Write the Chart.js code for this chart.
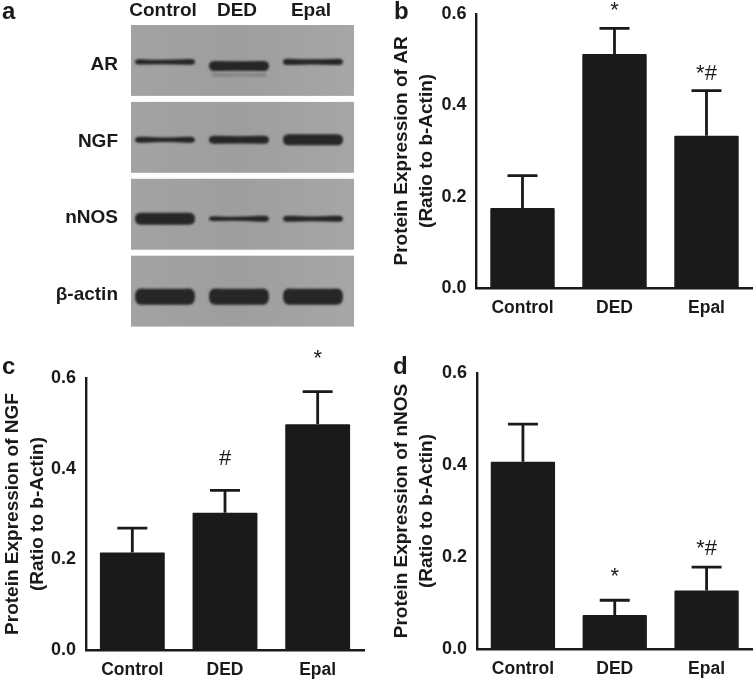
<!DOCTYPE html>
<html lang="en">
<head>
<meta charset="UTF-8">
<title>Protein expression of AR, NGF and nNOS</title>
<script src="https://cdn.jsdelivr.net/npm/chart.js"></script>
<style>
  html, body { margin: 0; padding: 0; background: #fff; }
  #page { position: relative; width: 755px; height: 680px; overflow: hidden; font-family: "Liberation Sans", Arial, sans-serif; }
  canvas { position: absolute; }
  .panel-letter { position: absolute; font-weight: bold; font-size: 24px; line-height: 24px; color: #1a1a1a; }
</style>
</head>
<body>
<div id="page">
  <canvas id="blot" width="375" height="353" style="left:0;top:0"></canvas>
  <canvas id="chartB" width="375" height="340" style="left:380px;top:0"></canvas>
  <canvas id="chartC" width="380" height="340" style="left:0;top:340px"></canvas>
  <canvas id="chartD" width="375" height="340" style="left:380px;top:340px"></canvas>
  <div class="panel-letter" style="left:2px;top:-1px">a</div>
  <div class="panel-letter" style="left:394px;top:-1px">b</div>
  <div class="panel-letter" style="left:2px;top:354px">c</div>
  <div class="panel-letter" style="left:393px;top:354px">d</div>
</div>

<script>
// groups on every chart
const groups = ['Control', 'DED', 'Epal'];
const yTicks = [0, 0.2, 0.4, 0.6];

// panel b - AR
const arMeans = [0.175, 0.512, 0.333];
const arErrTops = [0.246, 0.568, 0.432];
const arMarks = ['', '*', '*#'];

// panel c - NGF
const ngfMeans = [0.215, 0.303, 0.498];
const ngfErrTops = [0.269, 0.352, 0.570];
const ngfMarks = ['', '#', '*'];

// panel d - nNOS
const nnosMeans = [0.407, 0.074, 0.127];
const nnosErrTops = [0.489, 0.106, 0.178];
const nnosMarks = ['', '*', '*#'];

// panel a - western blot, band strength per lane as [left, middle, right] thickness
const blotRows = ['AR', 'NGF', 'nNOS', 'β-actin'];
const arBands = [[5, 4, 5.5], [10, 9, 10], [6, 4.5, 6]];
const ngfBands = [[6, 3, 6], [8, 6.5, 8], [11, 11, 11]];
const nnosBands = [[12, 12, 12], [4.5, 2.5, 6], [6, 3.5, 6]];
const actinBands = [[16, 16, 16], [16, 16, 16], [16, 16, 16]];
const allBands = [arBands, ngfBands, nnosBands, actinBands];

const INK = '#1a1a1a';
const FONT = '"Liberation Sans", Arial, sans-serif';

// error bars and significance marks drawn off the y scale
const errorBarPlugin = {
  id: 'errorBars',
  afterDatasetsDraw(chart, args, opts) {
    const { ctx, scales } = chart;
    const meta = chart.getDatasetMeta(0);
    ctx.save();
    ctx.strokeStyle = INK;
    ctx.fillStyle = INK;
    ctx.lineWidth = 2.8;
    opts.tops.forEach((top, i) => {
      const x = meta.data[i].x;
      const yTop = scales.y.getPixelForValue(top);
      const yBar = scales.y.getPixelForValue(opts.means[i]);
      ctx.beginPath();
      ctx.moveTo(x, yBar);
      ctx.lineTo(x, yTop);
      ctx.moveTo(x - 15, yTop);
      ctx.lineTo(x + 15, yTop);
      ctx.stroke();
      if (opts.marks[i]) {
        ctx.font = '22px ' + FONT;
        ctx.textAlign = 'center';
        ctx.textBaseline = 'middle';
        ctx.fillText(opts.marks[i], x, yTop - opts.gaps[i]);
      }
    });
    ctx.restore();
  }
};

function barChart(id, name, means, tops, marks, gaps, plot) {
  new Chart(document.getElementById(id), {
    type: 'bar',
    data: {
      labels: groups,
      datasets: [{ data: means, backgroundColor: INK, barPercentage: 0.7, categoryPercentage: 1, borderRadius: 1 }]
    },
    plugins: [errorBarPlugin],
    options: {
      responsive: false,
      animation: false,
      layout: { padding: { top: plot.top, right: plot.right, left: 0, bottom: 0 } },
      plugins: {
        legend: { display: false },
        tooltip: { enabled: false },
        errorBars: { means: means, tops: tops, marks: marks, gaps: gaps }
      },
      scales: {
        x: {
          grid: { display: false, drawTicks: true, tickLength: 7, tickWidth: 2.2, tickColor: INK },
          border: { color: INK, width: 2.4 },
          ticks: { color: INK, padding: 3, maxRotation: 0, font: { family: FONT, size: 17.5, weight: 'bold' } },
          afterFit(s) { s.height = plot.xHeight; }
        },
        y: {
          min: 0,
          max: 0.6,
          afterBuildTicks(s) { s.ticks = yTicks.map(v => ({ value: v })); },
          grid: { display: false, drawTicks: true, tickLength: 7, tickWidth: 2.2, tickColor: INK },
          border: { color: INK, width: 2.4 },
          ticks: { color: INK, padding: 3, font: { family: FONT, size: 18, weight: 'bold' }, callback: v => v.toFixed(1) },
          title: {
            display: true,
            text: ['Protein Expression of ' + name, '(Ratio to b-Actin)'],
            color: INK,
            padding: { top: plot.titlePad, bottom: 0 },
            font: { family: FONT, size: 19, weight: 'bold', lineHeight: 1.32 }
          },
          afterFit(s) { s.width = plot.yWidth; }
        }
      }
    }
  });
}

barChart('chartB', 'AR', arMeans, arErrTops, arMarks, [0, 17, 17],
  { top: 12, right: 2.5, xHeight: 52, yWidth: 96.5, titlePad: 9 });
barChart('chartC', 'NGF', ngfMeans, ngfErrTops, ngfMarks, [0, 31, 33],
  { top: 38, right: 16, xHeight: 30, yWidth: 86, titlePad: 0 });
barChart('chartD', 'nNOS', nnosMeans, nnosErrTops, nnosMarks, [0, 23, 18],
  { top: 33, right: 2.5, xHeight: 31, yWidth: 97, titlePad: 9 });

// blot strips and bands, placed on the lane and row scales
const bandShift = [-2.5, -1.5, 0.5, 1.5];

function drawBand(ctx, xc, y, halfW, band) {
  ctx.beginPath();
  ctx.moveTo(xc - halfW, y);
  ctx.bezierCurveTo(xc - halfW, y - band[0] / 2 - 1, xc - halfW + 6, y - band[0] / 2, xc - halfW + 10, y - band[0] / 2);
  ctx.quadraticCurveTo(xc, y - band[1] / 2, xc + halfW - 10, y - band[2] / 2);
  ctx.bezierCurveTo(xc + halfW - 6, y - band[2] / 2, xc + halfW, y - band[2] / 2 - 1, xc + halfW, y);
  ctx.bezierCurveTo(xc + halfW, y + band[2] / 2 + 1, xc + halfW - 6, y + band[2] / 2, xc + halfW - 10, y + band[2] / 2);
  ctx.quadraticCurveTo(xc, y + band[1] / 2, xc - halfW + 10, y + band[0] / 2);
  ctx.bezierCurveTo(xc - halfW + 6, y + band[0] / 2, xc - halfW, y + band[0] / 2 + 1, xc - halfW, y);
  ctx.closePath();
  ctx.fill();
}

const blotPlugin = {
  id: 'blotBands',
  beforeDatasetsDraw(chart) {
    const { ctx, scales, chartArea } = chart;
    const laneStep = scales.x.getPixelForValue(1) - scales.x.getPixelForValue(0);
    const rowStep = scales.y.getPixelForValue(1) - scales.y.getPixelForValue(0);
    ctx.save();
    blotRows.forEach((row, r) => {
      const yc = scales.y.getPixelForValue(r);
      const stripH = rowStep - 6;
      const stripTop = yc - 4 - stripH / 2;
      const grad = ctx.createLinearGradient(chartArea.left, 0, chartArea.right, 0);
      grad.addColorStop(0, '#a3a3a3');
      grad.addColorStop(0.5, '#9e9e9e');
      grad.addColorStop(1, '#a6a6a6');
      ctx.fillStyle = grad;
      ctx.fillRect(chartArea.left + 5, stripTop, chartArea.right - chartArea.left + 1, stripH);

      allBands[r].forEach((band, l) => {
        const xc = scales.x.getPixelForValue(l) + 2;
        const halfW = laneStep * 0.405;
        // the AR band in the DED lane runs a little lower, with a faint band under it
        const drop = (r === 0 && l === 1) ? 4 : 0;
        const y = yc + bandShift[r] + drop;
        ctx.filter = 'blur(1px)';
        if (drop) {
          ctx.fillStyle = 'rgba(60, 60, 60, 0.3)';
          drawBand(ctx, xc, y + 9, halfW * 0.92, [3, 2, 3]);
        }
        ctx.fillStyle = '#262626';
        drawBand(ctx, xc, y, halfW, band);
        ctx.filter = 'none';
      });
    });
    ctx.restore();
  }
};

new Chart(document.getElementById('blot'), {
  type: 'bar',
  data: { labels: groups, datasets: [{ data: [], yAxisID: 'y' }] },
  plugins: [blotPlugin],
  options: {
    responsive: false,
    animation: false,
    layout: { padding: { top: 0, right: 27, left: 0, bottom: 0 } },
    plugins: { legend: { display: false }, tooltip: { enabled: false } },
    scales: {
      x: {
        position: 'top',
        grid: { display: false, drawTicks: false },
        border: { display: false },
        ticks: { color: INK, padding: 4, maxRotation: 0, font: { family: FONT, size: 19, weight: 'bold' } },
        afterFit(s) { s.height = 26; }
      },
      y: {
        type: 'category',
        labels: blotRows,
        offset: true,
        grid: { display: false, drawTicks: false },
        border: { display: false },
        ticks: { color: INK, padding: 8, font: { family: FONT, size: 19, weight: 'bold' } },
        afterFit(s) { s.width = 126; }
      }
    }
  }
});
</script>
</body>
</html>
